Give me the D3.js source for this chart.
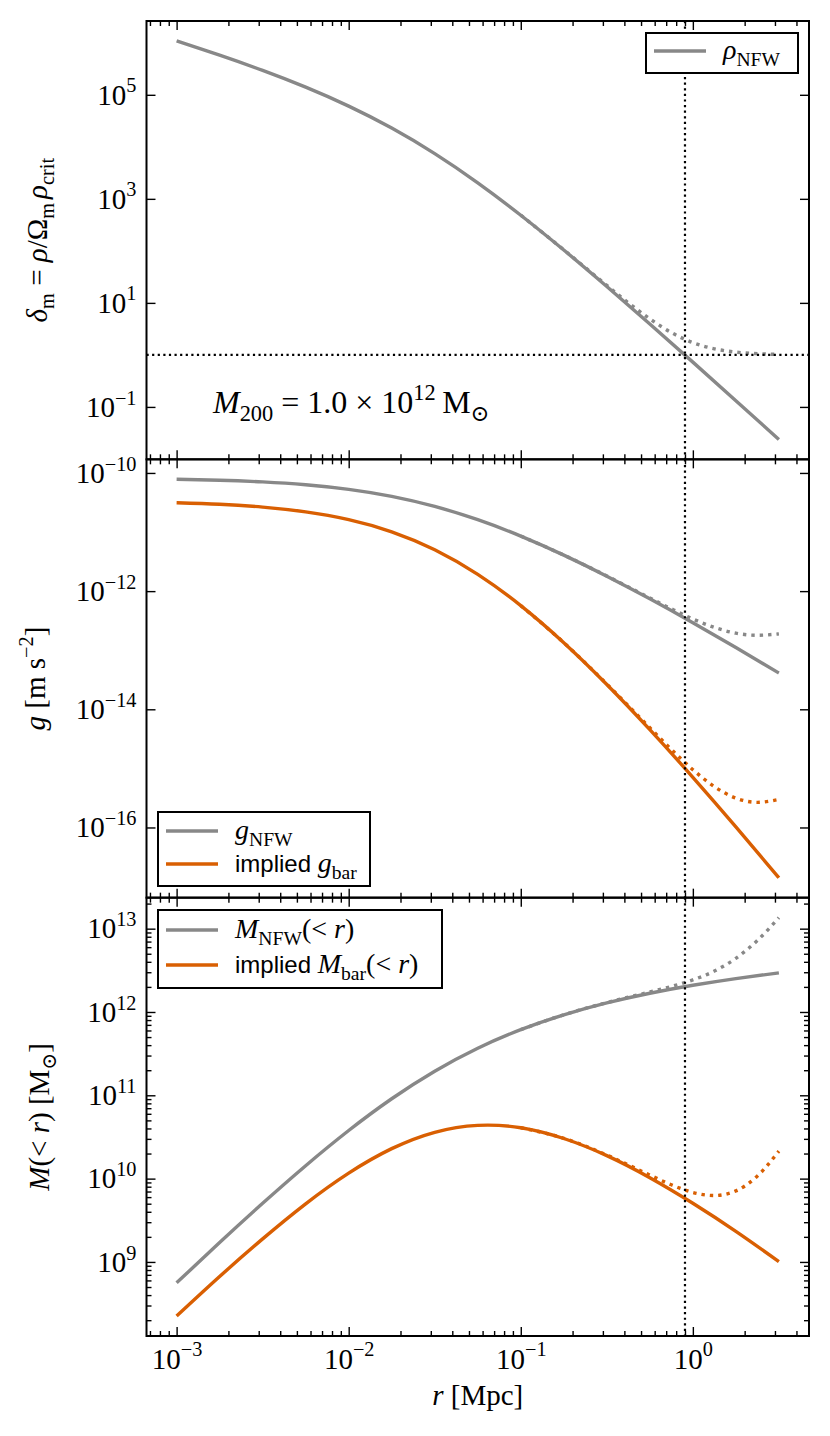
<!DOCTYPE html>
<html>
<head>
<meta charset="utf-8">
<script src="https://cdn.jsdelivr.net/npm/d3@7"></script>
<style>
  body { margin: 0; background: #fff; }
</style>
</head>
<body>
<div id="chart"></div>
<script>
// radii [Mpc] for the solid curves
const rGrid = [0.001, 0.001778, 0.003162, 0.005623, 0.01, 0.01778, 0.03162, 0.05623,
               0.1, 0.1778, 0.3162, 0.5623, 1.0, 1.778, 3.162];
// radii for the dotted curves (halo + mean background)
const rOuter = [0.1, 0.1778, 0.3162, 0.4217, 0.5623, 0.7499, 1.0, 1.334, 1.778, 2.371, 3.162];

// panel 1: overdensity
const deltaNFW   = [1.086e6, 5.77e5, 2.94e5, 1.401e5, 6.05e4, 2.29e4, 7395, 2031,
                    484.5, 103.8, 20.66, 3.93, 0.726, 0.1319, 0.02374];
const deltaTotal = [485.5, 104.8, 21.66, 10.05, 4.93, 2.69, 1.726, 1.310, 1.132, 1.056, 1.024];

// panel 2: acceleration [m s^-2]
const gNFW      = [7.82e-11, 7.54e-11, 7.05e-11, 6.31e-11, 5.27e-11, 4.01e-11, 2.71e-11, 1.616e-11,
                   8.54e-12, 4.07e-12, 1.79e-12, 7.40e-13, 2.92e-13, 1.110e-13, 4.11e-14];
const gBar      = [3.13e-11, 2.95e-11, 2.64e-11, 2.19e-11, 1.62e-11, 1.009e-11, 5.01e-12, 1.92e-12,
                   5.68e-13, 1.338e-13, 2.63e-14, 4.53e-15, 7.07e-16, 1.025e-16, 1.41e-17];
const gTotal    = [8.55e-12, 4.08e-12, 1.805e-12, 1.178e-12, 7.66e-13, 5.02e-13, 3.38e-13,
                   2.43e-13, 1.94e-13, 1.79e-13, 1.89e-13];
const gBarTotal = [5.69e-13, 1.343e-13, 2.675e-14, 1.146e-14, 4.86e-15, 2.09e-15, 9.51e-16,
                   4.91e-16, 3.14e-16, 2.66e-16, 2.98e-16];

// panel 3: enclosed mass [Msun]
const mNFW      = [5.61e8, 1.71e9, 5.06e9, 1.430e10, 3.78e10, 9.09e10, 1.945e11, 3.67e11,
                   6.13e11, 9.24e11, 1.284e12, 1.677e12, 2.091e12, 2.517e12, 2.950e12];
const mBar      = [2.24e8, 6.68e8, 1.89e9, 4.98e9, 1.163e10, 2.289e10, 3.60e10, 4.36e10,
                   4.08e10, 3.03e10, 1.888e10, 1.027e10, 5.07e9, 2.33e9, 1.011e9];
const mTotal    = [6.13e11, 9.26e11, 1.295e12, 1.503e12, 1.737e12, 2.024e12, 2.427e12,
                   3.10e12, 4.41e12, 7.21e12, 1.358e13];
const mBarTotal = [4.08e10, 3.05e10, 1.919e10, 1.461e10, 1.102e10, 8.43e9, 6.82e9,
                   6.27e9, 7.12e9, 1.073e10, 2.14e10];

const rMark = 0.9;      // vertical dotted line
const deltaMean = 1;    // horizontal dotted line in panel 1

// tick exponents
const xTicks  = [-3, -2, -1, 0];
const yTicks1 = [-1, 1, 3, 5];
const yTicks2 = [-16, -14, -12, -10];
const yTicks3 = [9, 10, 11, 12, 13];

const GRAY = "#888888", ORANGE = "#d95f02";
const SERIF = "'Liberation Serif', 'DejaVu Serif', serif";
const SANS = "'Liberation Sans', 'DejaVu Sans', sans-serif";
const FS = 29, LFS = 28, SFS = 24;

const W = 830, H = 1436;
const mLeft = 146.5, mRight = 809, mTop = 21, mBottom = 1336;
const panelH = (mBottom - mTop) / 3;

const svg = d3.select("#chart").append("svg")
    .attr("width", W).attr("height", H)
    .style("font-family", SERIF);

function padLog(vals) {
    const a = Math.log10(d3.min(vals)), b = Math.log10(d3.max(vals));
    const p = (b - a) * 0.05;
    return [Math.pow(10, a - p), Math.pow(10, b + p)];
}

const x = d3.scaleLog().domain(padLog(rGrid)).range([mLeft, mRight]);

// writes math-like text into a <text> element using tspans
function rich(text, parts, size) {
    text.text(null);
    let shift = 0;
    parts.forEach(p => {
        const target = p.sup ? -0.42 * size : (p.sub ? 0.24 * size : 0);
        const fs = p.sans ? SFS : ((p.sup || p.sub) ? size * 0.7 : size);
        const ts = text.append("tspan").text(p.t).attr("font-size", fs);
        if (target - shift !== 0) ts.attr("dy", target - shift);
        if (p.it) ts.attr("font-style", "italic");
        if (p.sans) ts.attr("font-family", SANS);
        shift = target;
    });
}

function pow10(text, e) {
    rich(text, [{t: "10"}, {t: String(e).replace("-", "\u2212"), sup: true}], FS);
}

function minorsFor(domain) {
    const out = [];
    const lo = Math.floor(Math.log10(domain[0])), hi = Math.ceil(Math.log10(domain[1]));
    for (let k = lo; k <= hi; k++) {
        for (let m = 2; m <= 9; m++) {
            const v = m * Math.pow(10, k);
            if (v >= domain[0] && v <= domain[1]) out.push(v);
        }
    }
    return out;
}

const panels = [
    {
        solid: [{v: deltaNFW, c: GRAY}],
        dotted: [{v: deltaTotal, c: GRAY}],
        ticks: yTicks1, minor: false,
        label: [{t: "\u03b4", it: true}, {t: "m", sub: true}, {t: " = "}, {t: "\u03c1", it: true},
                {t: "/\u03a9"}, {t: "m\u2009", sub: true}, {t: "\u03c1", it: true}, {t: "crit", sub: true}],
        labelX: 47
    },
    {
        solid: [{v: gNFW, c: GRAY}, {v: gBar, c: ORANGE}],
        dotted: [{v: gTotal, c: GRAY}, {v: gBarTotal, c: ORANGE}],
        ticks: yTicks2, minor: false,
        label: [{t: "g", it: true}, {t: " [m s"}, {t: "\u22122", sup: true}, {t: "]"}],
        labelX: 45
    },
    {
        solid: [{v: mNFW, c: GRAY}, {v: mBar, c: ORANGE}],
        dotted: [{v: mTotal, c: GRAY}, {v: mBarTotal, c: ORANGE}],
        ticks: yTicks3, minor: true,
        label: [{t: "M", it: true}, {t: "(< "}, {t: "r", it: true}, {t: ") [M"},
                {t: "\u2299", sub: true}, {t: "]"}],
        labelX: 49
    }
];

panels.forEach((p, i) => {
    const y0 = mTop + i * panelH, y1 = y0 + panelH;
    const all = p.solid.concat(p.dotted).flatMap(s => s.v);
    const y = d3.scaleLog().domain(padLog(all)).range([y1, y0]);
    const g = svg.append("g");

    const clipId = "clip" + i;
    svg.append("clipPath").attr("id", clipId).append("rect")
        .attr("x", mLeft).attr("y", y0).attr("width", mRight - mLeft).attr("height", panelH);
    const plot = g.append("g").attr("clip-path", `url(#${clipId})`);

    const solidLine = d3.line().x(d => x(d[0])).y(d => y(d[1])).curve(d3.curveNatural);
    const dotLine = d3.line().x(d => x(d[0])).y(d => y(d[1])).curve(d3.curveMonotoneX);

    p.solid.forEach(s => {
        plot.append("path")
            .datum(rGrid.map((r, k) => [r, s.v[k]]))
            .attr("d", solidLine)
            .attr("fill", "none").attr("stroke", s.c).attr("stroke-width", 3.4);
    });
    p.dotted.forEach(s => {
        plot.append("path")
            .datum(rOuter.map((r, k) => [r, s.v[k]]))
            .attr("d", dotLine)
            .attr("fill", "none").attr("stroke", s.c).attr("stroke-width", 3.4)
            .attr("stroke-dasharray", "3.4 5");
    });

    // reference lines
    plot.append("line")
        .attr("x1", x(rMark)).attr("x2", x(rMark)).attr("y1", y0).attr("y2", y1)
        .attr("stroke", "#000").attr("stroke-width", 2.2).attr("stroke-dasharray", "2.2 3.4");
    if (i === 0) {
        plot.append("line")
            .attr("x1", mLeft).attr("x2", mRight).attr("y1", y(deltaMean)).attr("y2", y(deltaMean))
            .attr("stroke", "#000").attr("stroke-width", 2.2).attr("stroke-dasharray", "2.2 3.4");
    }

    // axes, ticks pointing inward
    const yMajor = p.ticks.map(e => Math.pow(10, e));
    const yl = g.append("g").attr("transform", `translate(${mLeft},0)`)
        .call(d3.axisLeft(y).tickValues(yMajor).tickSize(-9).tickSizeOuter(0).tickPadding(10));
    yl.selectAll(".tick text").each(function(d) { pow10(d3.select(this), Math.round(Math.log10(d))); });
    g.append("g").attr("transform", `translate(${mRight},0)`)
        .call(d3.axisRight(y).tickValues(yMajor).tickSize(-9).tickSizeOuter(0).tickFormat(""));
    if (p.minor) {
        const ym = minorsFor(y.domain());
        g.append("g").attr("transform", `translate(${mLeft},0)`)
            .call(d3.axisLeft(y).tickValues(ym).tickSize(-5).tickSizeOuter(0).tickFormat(""));
        g.append("g").attr("transform", `translate(${mRight},0)`)
            .call(d3.axisRight(y).tickValues(ym).tickSize(-5).tickSizeOuter(0).tickFormat(""));
    }

    const xMajor = xTicks.map(e => Math.pow(10, e));
    const xm = minorsFor(x.domain());
    g.append("g").attr("transform", `translate(0,${y0})`)
        .call(d3.axisTop(x).tickValues(xMajor).tickSize(-9).tickSizeOuter(0).tickFormat(""));
    g.append("g").attr("transform", `translate(0,${y0})`)
        .call(d3.axisTop(x).tickValues(xm).tickSize(-5).tickSizeOuter(0).tickFormat(""));
    const xb = g.append("g").attr("transform", `translate(0,${y1})`)
        .call(d3.axisBottom(x).tickValues(xMajor).tickSize(-9).tickSizeOuter(0).tickPadding(12));
    g.append("g").attr("transform", `translate(0,${y1})`)
        .call(d3.axisBottom(x).tickValues(xm).tickSize(-5).tickSizeOuter(0).tickFormat(""));
    if (i === panels.length - 1) {
        xb.selectAll(".tick text").each(function(d) { pow10(d3.select(this), Math.round(Math.log10(d))); });
    } else {
        xb.selectAll(".tick text").remove();
    }

    g.selectAll(".domain").remove();
    g.selectAll(".tick line").attr("stroke", "#000").attr("stroke-width", 1.4);
    g.selectAll(".tick text").attr("fill", "#000").style("font-family", SERIF).style("font-size", FS + "px");

    g.append("rect")
        .attr("x", mLeft).attr("y", y0).attr("width", mRight - mLeft).attr("height", panelH)
        .attr("fill", "none").attr("stroke", "#000").attr("stroke-width", 2);

    // y label
    const lab = svg.append("text")
        .attr("transform", `translate(${p.labelX},${(y0 + y1) / 2}) rotate(-90)`)
        .attr("text-anchor", "middle");
    rich(lab, p.label, FS);
});

// x label
rich(svg.append("text").attr("x", (mLeft + mRight) / 2).attr("y", 1405).attr("text-anchor", "middle"),
     [{t: "r", it: true}, {t: " [Mpc]"}], FS);

// annotation in panel 1
rich(svg.append("text").attr("x", 213).attr("y", 413),
     [{t: "M", it: true}, {t: "200", sub: true}, {t: " = 1.0 \u00d7 10"}, {t: "12", sup: true},
      {t: "\u2009M"}, {t: "\u2299", sub: true}], 32);

// legends
function legend(bx, by, bw, bh, items) {
    const g = svg.append("g");
    g.append("rect").attr("x", bx).attr("y", by).attr("width", bw).attr("height", bh)
        .attr("fill", "#fff").attr("stroke", "#000").attr("stroke-width", 2);
    items.forEach(it => {
        g.append("line").attr("x1", bx + 8).attr("x2", bx + 60).attr("y1", it.y).attr("y2", it.y)
            .attr("stroke", it.c).attr("stroke-width", 3.4);
        rich(g.append("text").attr("x", bx + 77).attr("y", it.y + 8), it.label, LFS);
    });
}

legend(646, 33, 152, 40, [
    {y: 51, c: GRAY, label: [{t: "\u03c1", it: true}, {t: "NFW", sub: true}]}
]);
legend(158, 812, 212, 74, [
    {y: 831, c: GRAY, label: [{t: "g", it: true}, {t: "NFW", sub: true}]},
    {y: 864, c: ORANGE, label: [{t: "implied ", sans: true}, {t: "g", it: true}, {t: "bar", sub: true}]}
]);
legend(158, 910, 284, 78, [
    {y: 930, c: GRAY, label: [{t: "M", it: true}, {t: "NFW", sub: true}, {t: "(< "}, {t: "r", it: true}, {t: ")"}]},
    {y: 965, c: ORANGE, label: [{t: "implied ", sans: true}, {t: "M", it: true}, {t: "bar", sub: true},
                                {t: "(< "}, {t: "r", it: true}, {t: ")"}]}
]);
</script>
</body>
</html>
